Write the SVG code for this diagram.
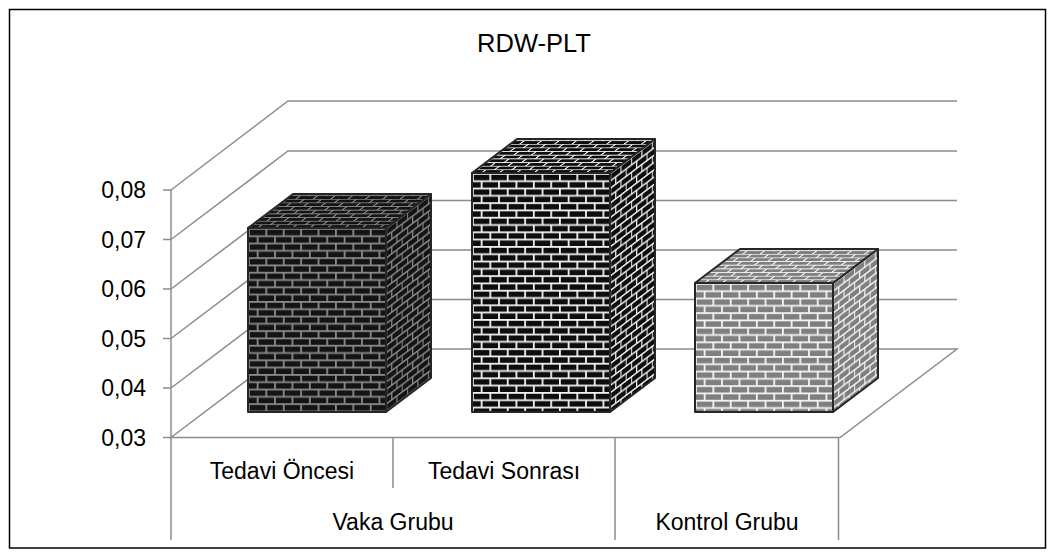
<svg xmlns="http://www.w3.org/2000/svg" xmlns:xlink="http://www.w3.org/1999/xlink" width="1056" height="558" viewBox="0 0 1056 558">
<style>
.grid{stroke:#8c8c8c;stroke-width:1.5;fill:none}
.lbl{font-family:"Liberation Sans",Arial,sans-serif;font-size:23px;fill:#000}
.title{font-family:"Liberation Sans",Arial,sans-serif;font-size:25.5px;fill:#000}
.edge{stroke:#262626;stroke-width:2;stroke-linejoin:round}
</style>
<defs>
<pattern id="b1" patternUnits="userSpaceOnUse" width="17.4" height="14.6">
<rect width="17.4" height="14.6" fill="#8a8a8a"/>
<rect x="1.8" y="1.8" width="15.6" height="5.5" fill="#141414"/>
<rect x="0" y="9.1" width="8.7" height="5.5" fill="#141414"/>
<rect x="10.5" y="9.1" width="6.9" height="5.5" fill="#141414"/>
</pattern>
<pattern id="b2" patternUnits="userSpaceOnUse" width="17.4" height="14.6">
<rect width="17.4" height="14.6" fill="#f2f2f2"/>
<rect x="1.8" y="1.8" width="15.6" height="5.5" fill="#0d0d0d"/>
<rect x="0" y="9.1" width="8.7" height="5.5" fill="#0d0d0d"/>
<rect x="10.5" y="9.1" width="6.9" height="5.5" fill="#0d0d0d"/>
</pattern>
<pattern id="b3" patternUnits="userSpaceOnUse" width="17.4" height="14.6">
<rect width="17.4" height="14.6" fill="#f4f4f4"/>
<rect x="1.8" y="1.8" width="15.6" height="5.5" fill="#7f7f7f"/>
<rect x="0" y="9.1" width="8.7" height="5.5" fill="#7f7f7f"/>
<rect x="10.5" y="9.1" width="6.9" height="5.5" fill="#7f7f7f"/>
</pattern>
<pattern id="b1f" href="#b1" xlink:href="#b1" patternTransform="translate(248,228)"/>
<pattern id="b1s" href="#b1" xlink:href="#b1" patternTransform="translate(386,228) matrix(0.6,-0.4533,0,1,0,0)"/>
<pattern id="b1t" href="#b1" xlink:href="#b1" patternTransform="translate(248,228) matrix(1,0,-0.66,0.5,0,0)"/>
<pattern id="b2f" href="#b2" xlink:href="#b2" patternTransform="translate(472,173)"/>
<pattern id="b2s" href="#b2" xlink:href="#b2" patternTransform="translate(610,173) matrix(0.6,-0.4533,0,1,0,0)"/>
<pattern id="b2t" href="#b2" xlink:href="#b2" patternTransform="translate(472,173) matrix(1,0,-0.66,0.5,0,0)"/>
<pattern id="b3f" href="#b3" xlink:href="#b3" patternTransform="translate(695,283)"/>
<pattern id="b3s" href="#b3" xlink:href="#b3" patternTransform="translate(833,283) matrix(0.6,-0.4533,0,1,0,0)"/>
<pattern id="b3t" href="#b3" xlink:href="#b3" patternTransform="translate(695,283) matrix(1,0,-0.66,0.5,0,0)"/>
</defs>
<rect x="0" y="0" width="1056" height="558" fill="#fff"/>
<rect x="9.5" y="9.5" width="1036" height="538.5" fill="none" stroke="#000" stroke-width="1.5"/>
<text class="title" x="534" y="52" text-anchor="middle">RDW-PLT</text>

<g id="axes" class="grid">
<!-- back wall gridlines -->
<polyline points="171,190 288,101 957,101"/>
<polyline points="171,239.5 288,151 957,151"/>
<polyline points="171,289 288,200.5 957,200.5"/>
<polyline points="171,338.5 288,250 957,250"/>
<polyline points="171,388 288,299.5 957,299.5"/>
<!-- floor -->
<polygon points="171,437.5 288,349 957,349 840,437.5"/>
<!-- vertical axis and ticks -->
<line x1="171" y1="190" x2="171" y2="540"/>
<line x1="163" y1="190" x2="171" y2="190"/>
<line x1="163" y1="239.5" x2="171" y2="239.5"/>
<line x1="163" y1="289" x2="171" y2="289"/>
<line x1="163" y1="338.5" x2="171" y2="338.5"/>
<line x1="163" y1="388" x2="171" y2="388"/>
<line x1="163" y1="437.5" x2="171" y2="437.5"/>
<!-- category separators -->
<line x1="393" y1="437.5" x2="393" y2="488"/>
<line x1="615" y1="437.5" x2="615" y2="540"/>
<line x1="838.5" y1="437.5" x2="838.5" y2="540"/>
</g>

<g id="ylabels">
<text class="lbl" x="146" y="198" text-anchor="end">0,08</text>
<text class="lbl" x="146" y="247.5" text-anchor="end">0,07</text>
<text class="lbl" x="146" y="297" text-anchor="end">0,06</text>
<text class="lbl" x="146" y="346.5" text-anchor="end">0,05</text>
<text class="lbl" x="146" y="396" text-anchor="end">0,04</text>
<text class="lbl" x="146" y="445.5" text-anchor="end">0,03</text>
</g>

<g id="bar-tedavi-oncesi" class="edge">
<rect x="248" y="228" width="138" height="184" fill="url(#b1f)"/>
<polygon points="386,228 431,194 431,378 386,412" fill="url(#b1s)"/>
<polygon points="248,228 293,194 431,194 386,228" fill="url(#b1t)"/>
</g>
<g id="bar-tedavi-sonrasi" class="edge">
<rect x="472" y="173" width="138" height="239" fill="url(#b2f)"/>
<polygon points="610,173 655,139 655,378 610,412" fill="url(#b2s)"/>
<polygon points="472,173 517,139 655,139 610,173" fill="url(#b2t)"/>
</g>
<g id="bar-kontrol" class="edge">
<rect x="695" y="283" width="138" height="129" fill="url(#b3f)"/>
<polygon points="833,283 878,249 878,378 833,412" fill="url(#b3s)"/>
<polygon points="695,283 740,249 878,249 833,283" fill="url(#b3t)"/>
</g>

<g id="xlabels">
<text class="lbl" x="282" y="479" text-anchor="middle">Tedavi Öncesi</text>
<text class="lbl" x="504" y="479" text-anchor="middle">Tedavi Sonrası</text>
<text class="lbl" x="393" y="530" text-anchor="middle">Vaka Grubu</text>
<text class="lbl" x="727" y="530" text-anchor="middle">Kontrol Grubu</text>
</g>
</svg>
